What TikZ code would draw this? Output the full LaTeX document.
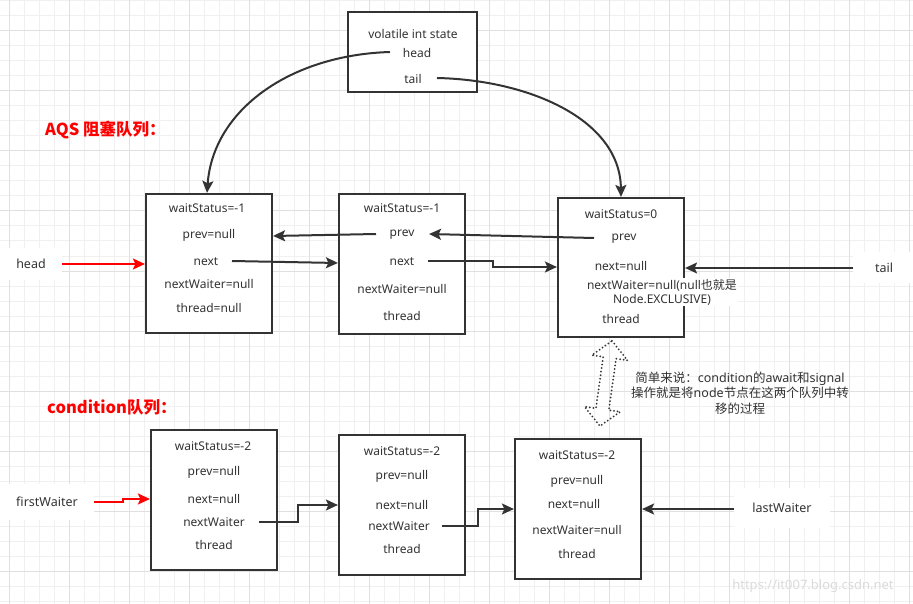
\documentclass[tikz,border=0pt]{standalone}
\usepackage{fontspec}
\setmainfont{Noto Sans}
\newfontfamily\cjk{Noto Sans CJK SC}
\usetikzlibrary{arrows.meta}
\definecolor{linec}{HTML}{333333}
\definecolor{txt}{HTML}{333333}
\definecolor{gmin}{HTML}{F0F0F0}
\definecolor{gmaj}{HTML}{E0E0E0}
\begin{document}
\begin{tikzpicture}[x=1pt,y=-1pt,
  box/.style={draw=linec,line width=2.2pt,fill=white,minimum width=126pt,minimum height=140pt,inner sep=0pt},
  t/.style={text=txt,font=\fontsize{12}{14}\selectfont,inner sep=1pt},
  lbl/.style={fill=white,text=txt,font=\fontsize{12.5}{15}\selectfont,inner sep=0pt},
  arr/.style={draw=linec,line width=2pt,-{Stealth[length=12pt,width=11pt,inset=2.5pt]}},
  rarr/.style={draw=red,line width=2pt,-{Stealth[length=12pt,width=11pt,inset=2.5pt]}},
  title/.style={text=red,font=\cjk\fontsize{16.5}{19}\selectfont\bfseries,inner sep=0pt,anchor=west},
  dotarrow/.style={draw=linec,line width=2pt,dash pattern=on 0pt off 3.6pt,line cap=round,line join=round}
]
\useasboundingbox (0,0) rectangle (913,604);
\fill[white] (0,0) rectangle (913,604);
% grid
\foreach \x in {9,24,...,909} \draw[gmin,line width=1pt] (\x,0) -- (\x,604);
\foreach \y in {1,16,...,601} \draw[gmin,line width=1pt] (0,\y) -- (913,\y);
\foreach \x in {9,69,...,909} \draw[gmaj,line width=1pt] (\x,0) -- (\x,604);
\foreach \y in {31,91,...,571} \draw[gmaj,line width=1pt] (0,\y) -- (913,\y);

% titles
\node[title] (t1) at (45,130) {AQS 阻塞队列：};
\node[title] (t2) at (47,407) {condition队列：};

% state box
\node[box,minimum width=129pt,minimum height=80pt] (st) at (412.5,52) {};
\node[t] (stv) at (413,34) {volatile int state};
\node[t] (sth) at (417,53) {head};
\node[t] (stt) at (413,79) {tail};

% AQS boxes
\node[box,minimum height=139pt] (a1) at (209,263.5) {};
\node[t] (a1w) at (207,208) {waitStatus=-1};
\node[t] (a1p) at (209,235) {prev=null};
\node[t] (a1n) at (206,262) {next};
\node[t] (a1nw) at (209,284) {nextWaiter=null};
\node[t] (a1t) at (209,308) {thread=null};

\node[box] (a2) at (402,264) {};
\node[t] (a2w) at (402,208) {waitStatus=-1};
\node[t] (a2p) at (402,235) {prev};
\node[t] (a2n) at (402,262) {next};
\node[t] (a2nw) at (402,289) {nextWaiter=null};
\node[t] (a2t) at (402,316) {thread};

\node[box,minimum height=139pt] (a3) at (621,267.5) {};
\node[t] (a3w) at (621,214) {waitStatus=0};
\node[t] (a3p) at (624,239) {prev};
\node[t] (a3n) at (621,266) {next=null};
\node[t,fill=white,align=center,font=\fontsize{12}{14}\selectfont] (a3nw) at (662,292) {nextWaiter=null(null{\cjk 也就是}\\Node.EXCLUSIVE)};
\node[t] (a3t) at (621,319) {thread};

% condition boxes
\node[box] (c1) at (214,500) {};
\node[t] (c1w) at (213,446) {waitStatus=-2};
\node[t] (c1p) at (214,472) {prev=null};
\node[t] (c1n) at (214,499) {next=null};
\node[t] (c1nw) at (214,522) {nextWaiter};
\node[t] (c1t) at (214,545) {thread};

\node[box] (c2) at (402,505) {};
\node[t] (c2w) at (402,451) {waitStatus=-2};
\node[t] (c2p) at (402,476) {prev=null};
\node[t] (c2n) at (402,505) {next=null};
\node[t] (c2nw) at (399,526) {nextWaiter};
\node[t] (c2t) at (402,549) {thread};

\node[box] (c3) at (578,509) {};
\node[t] (c3w) at (577,455) {waitStatus=-2};
\node[t] (c3p) at (577,481) {prev=null};
\node[t] (c3n) at (574,504) {next=null};
\node[t] (c3nw) at (577,530) {nextWaiter=null};
\node[t] (c3t) at (577,554) {thread};

% outside labels
\node[lbl,minimum width=62pt,minimum height=32pt] (headL) at (31,264) {head};
\node[lbl,minimum width=62pt,minimum height=31pt] (tailL) at (884,267.5) {tail};
\node[lbl,minimum width=94pt,minimum height=36pt] (firstL) at (47,502) {firstWaiter};
\node[lbl,minimum width=96pt,minimum height=40pt] (lastL) at (782,508) {lastWaiter};

% explanation
\node[t,align=center,font=\fontsize{12.5}{15.5}\selectfont] (expl) at (740,393)
  {{\cjk 简单来说：}condition{\cjk 的}await{\cjk 和}signal\\{\cjk 操作就是将}node{\cjk 节点在这两个队列中转}\\{\cjk 移的过程}};

% watermark
\node[text=gray!28,font=\fontsize{13}{15}\selectfont,inner sep=0pt] (wm) at (813,586) {https://it007.blog.csdn.net};

% connector start points
\coordinate (sh) at (390,52);
\coordinate (stl) at (437,78);
\coordinate (a1ns) at (232,261);
\coordinate (a2ps) at (376,234);
\coordinate (a2ns) at (428,261);
\coordinate (a3ps) at (594,238);
\coordinate (a2pe) at (429,234);
\coordinate (c1ns) at (259,522);
\coordinate (c2ns) at (442,526);

% curves from state box
\draw[arr] (sh) .. controls (290,55) and (213,110) .. ([xshift=-2pt]a1.north);
\draw[arr] (stl) .. controls (530,80) and (620,120) .. (a3.north);

% AQS links
\draw[rarr] (headL.east) -- (a1.west |- headL.east);
\draw[arr] (a1ns) -- (a2.west |- 0,263);
\draw[arr] (a2ps) -- (a1.east |- 0,236);
\draw[arr] (a3ps) -- (a2pe);
\draw[arr] (a2ns) -- (493,261) -- (493,267) -- (a3.west |- 0,267);
\draw[arr] (tailL.west |- 0,268) -- (a3.east |- 0,268);

% condition links
\draw[rarr] (firstL.east |- 0,502) -- (123,502) -- (123,499) -- (c1.west |- 0,499);
\draw[arr] (c1ns) -- (298,522) -- (298,505) -- (c2.west |- 0,505);
\draw[arr] (c2ns) -- (478,526) -- (478,509) -- (c3.west |- 0,509);
\draw[arr] (lastL.west |- 0,509) -- (c3.east |- 0,509);

% dotted double arrow
\draw[dotarrow] (612.0,340.9) -- (627.5,360.3) -- (616.1,358.7) -- (608.8,410.2) -- (620.2,411.8)
  -- (600.0,426.1) -- (584.5,406.7) -- (595.9,408.3) -- (603.2,356.8) -- (591.8,355.2) -- cycle;
\end{tikzpicture}
\end{document}
